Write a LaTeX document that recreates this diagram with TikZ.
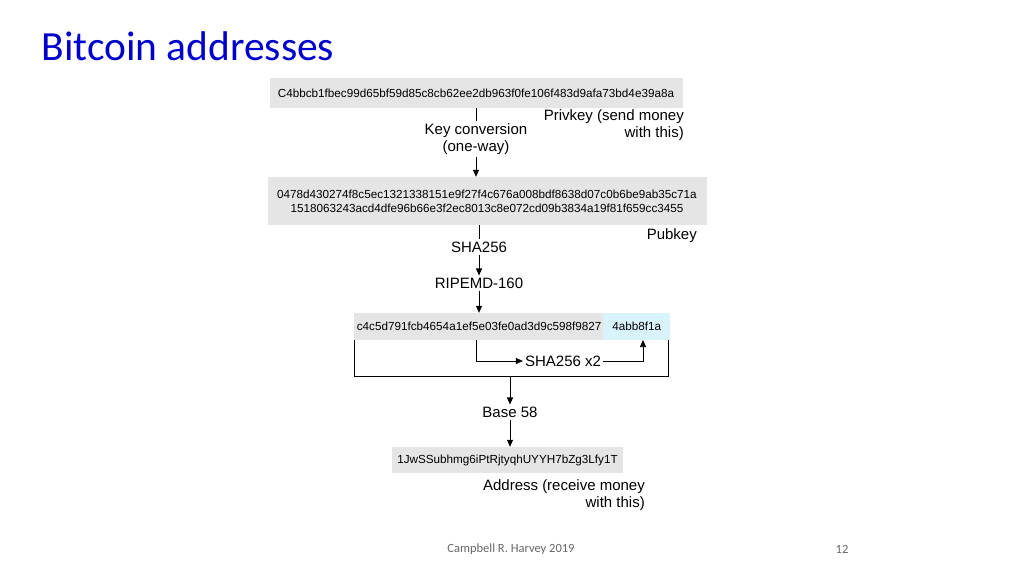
\documentclass[tikz,border=0pt]{standalone}
\usepackage{fontspec}
\setmainfont{Liberation Sans}
\newfontfamily\titlefont{Carlito}
\usetikzlibrary{positioning,arrows.meta}
\begin{document}
\begin{tikzpicture}[x=1pt,y=-1pt,
	hexbox/.style={rectangle, fill=black!10, inner sep=0pt, font=\fontsize{11.7}{14}\selectfont, align=center},
	lbl/.style={font=\fontsize{15}{17}\selectfont, inner sep=2pt},
	arr/.style={-{Triangle[length=7pt,width=6pt]}, line width=0.6pt}
	]
\useasboundingbox (0,0) rectangle (1024,576);

\node[anchor=base west, text=blue!80!black, font=\titlefont\fontsize{41.5}{44}\selectfont] (title) at (38,60) {Bitcoin addresses};

\node[hexbox, minimum width=413, minimum height=30] (priv) at (476,93) {C4bbcb1fbec99d65bf59d85c8cb62ee2db963f0fe106f483d9afa73bd4e39a8a};
\node[hexbox, minimum width=439, minimum height=48] (pub) at (487,201) {0478d430274f8c5ec1321338151e9f27f4c676a008bdf8638d07c0b6be9ab35c71a\\1518063243acd4dfe96b66e3f2ec8013c8e072cd09b3834a19f81f659cc3455};
\node[hexbox, minimum width=250, minimum height=27, anchor=west] (hash) at (354,326.5) {c4c5d791fcb4654a1ef5e03fe0ad3d9c598f9827};
\node[hexbox, fill=cyan!15, minimum width=67, minimum height=27, anchor=west] (check) at (603,326.5) {4abb8f1a};
\node[hexbox, minimum width=231, minimum height=26] (addr) at (507.5,460) {1JwSSubhmg6iPtRjtyqhUYYH7bZg3Lfy1T};

\node[lbl, align=center] (conv) at (476,139) {Key conversion\\(one-way)};
\node[lbl, align=right, anchor=north east] (privlbl) at (686,107) {Privkey (send money\\with this)};
\node[lbl, anchor=north east] (publbl) at (699,226) {Pubkey};
\node[lbl] (sha) at (479,247) {SHA256};
\node[lbl] (ripemd) at (479,283) {RIPEMD-160};
\node[lbl] (sha2) at (563,361) {SHA256 x2};
\node[lbl] (base) at (510,412) {Base 58};
\node[lbl, align=right, anchor=north east] (addrlbl) at (647,477) {Address (receive money\\with this)};

\node[text=black!60, font=\titlefont\fontsize{12.5}{14}\selectfont] (foot) at (511,549) {Campbell R. Harvey 2019};
\node[text=black!60, font=\titlefont\fontsize{12.5}{14}\selectfont] (page) at (842,549) {12};

\coordinate (bl) at (354,376);
\coordinate (br) at (668,376);

\draw[line width=0.6pt] (priv.south -| conv) -- (conv.north);
\draw[arr] (conv.south) -- (pub.north -| conv);
\draw[line width=0.6pt] (pub.south -| sha) -- (sha.north);
\draw[arr] (sha.south) -- (ripemd.north);
\draw[arr] (ripemd.south) -- (ripemd.south |- hash.north);
\draw[arr] (476,340) |- (sha2.west);
\draw[arr] (sha2.east) -| (643,340);
\draw[line width=0.6pt] (354,340) -- (bl) -- (br) -- (668,340);
\draw[arr] (base.north |- bl) -- (base.north);
\draw[arr] (base.south) -- (addr.north -| base);
\end{tikzpicture}
\end{document}
